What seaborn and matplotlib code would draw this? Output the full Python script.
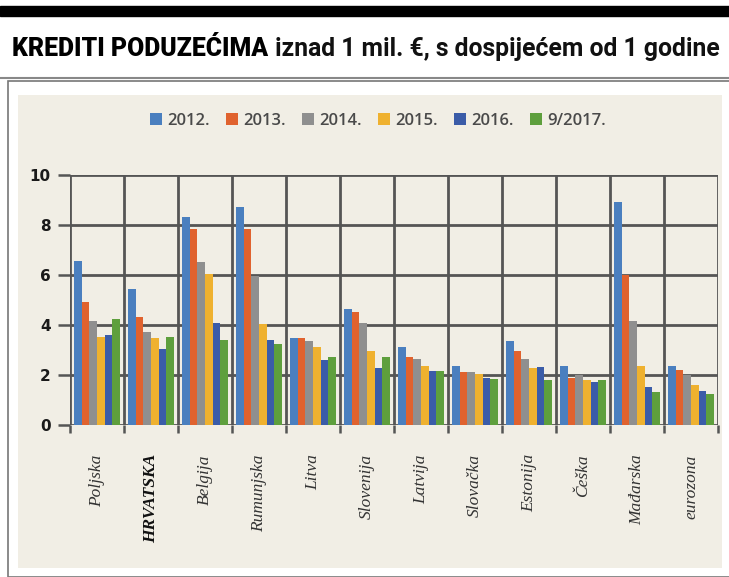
import pandas as pd
import numpy as np
import matplotlib.pyplot as plt
import seaborn as sns
from matplotlib.patches import Rectangle, Patch
from matplotlib.lines import Line2D

# Podaci
zemlje = ['Poljska', 'HRVATSKA', 'Belgija', 'Rumunjska', 'Litva', 'Slovenija',
          'Latvija', 'Slovačka', 'Estonija', 'Češka', 'Mađarska', 'eurozona']
godine = ['2012.', '2013.', '2014.', '2015.', '2016.', '9/2017.']

v2012 = [6.56, 5.43, 8.30, 8.73, 3.48, 4.66, 3.11, 2.38, 3.35, 2.38, 8.94, 2.38]
v2013 = [4.94, 4.33, 7.84, 7.84, 3.48, 4.52, 2.74, 2.13, 2.95, 1.89, 6.00, 2.19]
v2014 = [4.17, 3.72, 6.53, 5.96, 3.35, 4.07, 2.64, 2.11, 2.64, 2.00, 4.17, 2.00]
v2015 = [3.51, 3.48, 6.03, 4.04, 3.11, 2.95, 2.37, 2.03, 2.29, 1.79, 2.38, 1.59]
v2016 = [3.62, 3.03, 4.07, 3.40, 2.61, 2.29, 2.16, 1.89, 2.33, 1.71, 1.52, 1.36]
v2017 = [4.23, 3.51, 3.40, 3.25, 2.74, 2.74, 2.16, 1.84, 1.81, 1.81, 1.31, 1.23]

boje = ['#4a7fbf', '#e0622e', '#8f8f8f', '#efb12f', '#3b5ca8', '#5e9f3d']

serije = [v2012, v2013, v2014, v2015, v2016, v2017]
df = pd.DataFrame({
    'zemlja': np.tile(zemlje, len(godine)),
    'godina': np.repeat(godine, len(zemlje)),
    'vrijednost': np.concatenate(serije),
})

sns.set_style('white')
plt.rcParams['font.family'] = ['DejaVu Sans']

fig = plt.figure(figsize=(7.29, 5.77), dpi=100)
W, H = 729, 577

def fx(px):
    return px / W

def fy(py):
    return 1 - py / H

# okviri
fig.patches.append(Rectangle((0, fy(16)), 1, (16 - 6) / H, transform=fig.transFigure,
                             color='black', zorder=-2))
fig.lines.append(Line2D([0, 1], [fy(78), fy(78)], transform=fig.transFigure,
                        color='#888888', lw=1.5, zorder=-2))
fig.patches.append(Rectangle((fx(8), fy(577)), 1, (577 - 81) / H, transform=fig.transFigure,
                             facecolor='white', edgecolor='#777777', lw=1.2, zorder=-2))
panel = '#f1eee5'
fig.patches.append(Rectangle((fx(18), fy(568)), fx(722 - 18), (568 - 95) / H,
                             transform=fig.transFigure, facecolor=panel,
                             edgecolor='none', zorder=-1))

# naslov - velicina se prilagodi sirini
naslov_font = ['Roboto', 'DejaVu Sans']
velicina = 22
t1 = fig.text(fx(12), fy(56), 'KREDITI PODUZEĆIMA', fontsize=velicina, fontweight='black',
              family=naslov_font, color='black', va='baseline', ha='left')
t2 = fig.text(0.5, fy(56), 'iznad 1 mil. €, s dospijećem od 1 godine', fontsize=velicina,
              fontweight='bold', family=naslov_font, color='#111111', va='baseline', ha='left')
for _ in range(3):
    fig.canvas.draw()
    b1 = t1.get_window_extent()
    t2.set_x((b1.x1 + 7) / W)
    fig.canvas.draw()
    b2 = t2.get_window_extent()
    velicina = velicina * (722 - 12) / (b2.x1 - b1.x0)
    t1.set_fontsize(velicina)
    t2.set_fontsize(velicina)
fig.canvas.draw()
t2.set_x((t1.get_window_extent().x1 + 7) / W)

# graf
ax = fig.add_axes([fx(70), fy(425), fx(718 - 70), (425 - 175) / H])
ax.set_facecolor(panel)

for y in range(0, 11, 2):
    ax.axhline(y, color='#555555', lw=2.0, zorder=1)
for x in np.arange(-0.5, 12, 1):
    ax.axvline(x, color='#555555', lw=2.0, zorder=1)

sns.barplot(data=df, x='zemlja', y='vrijednost', hue='godina', palette=boje,
            width=0.84, saturation=1, ax=ax, legend=False, zorder=3, edgecolor='none')

ax.set_xlim(-0.5, 11.5)
ax.set_ylim(0, 10)
ax.set_xlabel('')
ax.set_ylabel('')
for s in ax.spines.values():
    s.set_visible(False)

ax.set_yticks(range(0, 11, 2))
ax.tick_params(axis='y', length=9, width=1.8, color='#555555', pad=5, left=True)
for lab in ax.get_yticklabels():
    lab.set_fontweight('bold')
    lab.set_fontsize(11)
    lab.set_color('#1a1a1a')

ax.set_xticks(range(len(zemlje)))
ax.set_xticks(np.arange(-0.5, 12, 1), minor=True)
ax.tick_params(axis='x', which='major', length=0, pad=21)
ax.tick_params(axis='x', which='minor', length=6, width=1.8, color='#555555', bottom=True)
ax.set_xticklabels(zemlje, rotation=90, fontsize=12.5, style='italic',
                   family=['Liberation Serif', 'DejaVu Serif'], color='#333333', va='top')
for lab in ax.get_xticklabels():
    if lab.get_text() == 'HRVATSKA':
        lab.set_fontweight('bold')
        lab.set_color('#111111')

# legenda
ruke = [Patch(facecolor=c, edgecolor='none') for c in boje]
fig.legend(ruke, godine, loc='center', bbox_to_anchor=(fx(378), fy(121)), ncol=6,
           frameon=False, handlelength=0.7, handleheight=0.7, handletextpad=0.3,
           columnspacing=1.0, prop={'family': 'Open Sans', 'weight': 'semibold', 'size': 12},
           labelcolor='#4a4a4a')

fig.savefig('out.png', dpi=100)
